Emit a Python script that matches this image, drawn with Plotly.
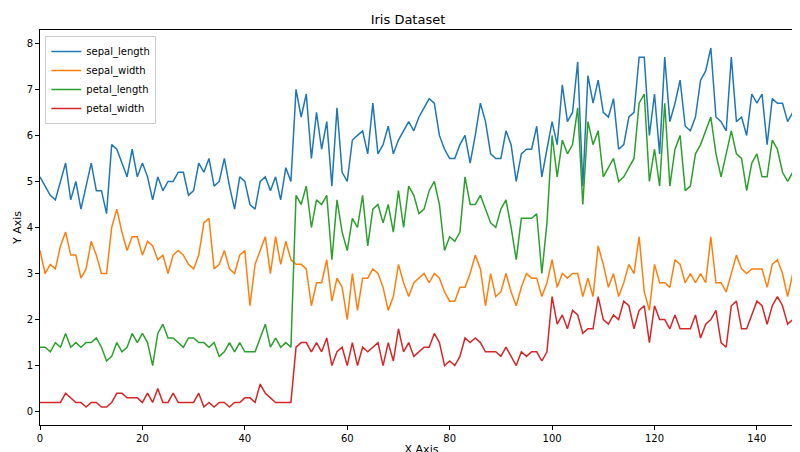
import plotly.graph_objects as go

sepal_length = [5.1,4.9,4.7,4.6,5.0,5.4,4.6,5.0,4.4,4.9,5.4,4.8,4.8,4.3,5.8,5.7,5.4,5.1,5.7,5.1,
                5.4,5.1,4.6,5.1,4.8,5.0,5.0,5.2,5.2,4.7,4.8,5.4,5.2,5.5,4.9,5.0,5.5,4.9,4.4,5.1,
                5.0,4.5,4.4,5.0,5.1,4.8,5.1,4.6,5.3,5.0,7.0,6.4,6.9,5.5,6.5,5.7,6.3,4.9,6.6,5.2,
                5.0,5.9,6.0,6.1,5.6,6.7,5.6,5.8,6.2,5.6,5.9,6.1,6.3,6.1,6.4,6.6,6.8,6.7,6.0,5.7,
                5.5,5.5,5.8,6.0,5.4,6.0,6.7,6.3,5.6,5.5,5.5,6.1,5.8,5.0,5.6,5.7,5.7,6.2,5.1,5.7,
                6.3,5.8,7.1,6.3,6.5,7.6,4.9,7.3,6.7,7.2,6.5,6.4,6.8,5.7,5.8,6.4,6.5,7.7,7.7,6.0,
                6.9,5.6,7.7,6.3,6.7,7.2,6.2,6.1,6.4,7.2,7.4,7.9,6.4,6.3,6.1,7.7,6.3,6.4,6.0,6.9,
                6.7,6.9,5.8,6.8,6.7,6.7,6.3,6.5,6.2,5.9]
sepal_width = [3.5,3.0,3.2,3.1,3.6,3.9,3.4,3.4,2.9,3.1,3.7,3.4,3.0,3.0,4.0,4.4,3.9,3.5,3.8,3.8,
               3.4,3.7,3.6,3.3,3.4,3.0,3.4,3.5,3.4,3.2,3.1,3.4,4.1,4.2,3.1,3.2,3.5,3.1,3.0,3.4,
               3.5,2.3,3.2,3.5,3.8,3.0,3.8,3.2,3.7,3.3,3.2,3.2,3.1,2.3,2.8,2.8,3.3,2.4,2.9,2.7,
               2.0,3.0,2.2,2.9,2.9,3.1,3.0,2.7,2.2,2.5,3.2,2.8,2.5,2.8,2.9,3.0,2.8,3.0,2.9,2.6,
               2.4,2.4,2.7,2.7,3.0,3.4,3.1,2.3,3.0,2.5,2.6,3.0,2.6,2.3,2.7,3.0,2.9,2.9,2.5,2.8,
               3.3,2.7,3.0,2.9,3.0,3.0,2.5,2.9,2.5,3.6,3.2,2.7,3.0,2.5,2.8,3.2,3.0,3.8,2.6,2.2,
               3.2,2.8,2.8,2.7,3.3,3.2,2.8,3.0,2.8,3.0,2.8,3.8,2.8,2.8,2.6,3.0,3.4,3.1,3.0,3.1,
               3.1,3.1,2.7,3.2,3.3,3.0,2.5,3.0,3.4,3.0]
petal_length = [1.4,1.4,1.3,1.5,1.4,1.7,1.4,1.5,1.4,1.5,1.5,1.6,1.4,1.1,1.2,1.5,1.3,1.4,1.7,1.5,
                1.7,1.5,1.0,1.7,1.9,1.6,1.6,1.5,1.4,1.6,1.6,1.5,1.5,1.4,1.5,1.2,1.3,1.5,1.3,1.5,
                1.3,1.3,1.3,1.6,1.9,1.4,1.6,1.4,1.5,1.4,4.7,4.5,4.9,4.0,4.6,4.5,4.7,3.3,4.6,3.9,
                3.5,4.2,4.0,4.7,3.6,4.4,4.5,4.1,4.5,3.9,4.8,4.0,4.9,4.7,4.3,4.4,4.8,5.0,4.5,3.5,
                3.8,3.7,3.9,5.1,4.5,4.5,4.7,4.4,4.1,4.0,4.4,4.6,4.0,3.3,4.2,4.2,4.2,4.3,3.0,4.1,
                6.0,5.1,5.9,5.6,5.8,6.6,4.5,6.3,5.8,6.1,5.1,5.3,5.5,5.0,5.1,5.3,5.5,6.7,6.9,5.0,
                5.7,4.9,6.7,4.9,5.7,6.0,4.8,4.9,5.6,5.8,6.1,6.4,5.6,5.1,5.6,6.1,5.6,5.5,4.8,5.4,
                5.6,5.1,5.1,5.9,5.7,5.2,5.0,5.2,5.4,5.1]
petal_width = [0.2,0.2,0.2,0.2,0.2,0.4,0.3,0.2,0.2,0.1,0.2,0.2,0.1,0.1,0.2,0.4,0.4,0.3,0.3,0.3,
               0.2,0.4,0.2,0.5,0.2,0.2,0.4,0.2,0.2,0.2,0.2,0.4,0.1,0.2,0.1,0.2,0.2,0.1,0.2,0.2,
               0.3,0.3,0.2,0.6,0.4,0.3,0.2,0.2,0.2,0.2,1.4,1.5,1.5,1.3,1.5,1.3,1.6,1.0,1.3,1.4,
               1.0,1.5,1.0,1.4,1.3,1.4,1.5,1.0,1.5,1.1,1.8,1.3,1.5,1.2,1.3,1.4,1.4,1.7,1.5,1.0,
               1.1,1.0,1.2,1.6,1.5,1.6,1.5,1.3,1.3,1.3,1.2,1.4,1.2,1.0,1.3,1.2,1.3,1.3,1.1,1.3,
               2.5,1.9,2.1,1.8,2.2,2.1,1.7,1.8,1.8,2.5,2.0,1.9,2.1,2.0,2.4,2.3,1.8,2.2,2.3,1.5,
               2.3,2.0,2.0,1.8,2.1,1.8,1.8,1.8,2.1,1.6,1.9,2.0,2.2,1.5,1.4,2.3,2.4,1.8,1.8,2.1,
               2.4,2.3,1.9,2.3,2.5,2.3,1.9,2.0,2.3,1.8]

series = [("sepal_length", sepal_length, "#1f77b4"),
          ("sepal_width", sepal_width, "#ff7f0e"),
          ("petal_length", petal_length, "#2ca02c"),
          ("petal_width", petal_width, "#d62728")]

fig = go.Figure()
for name, vals, color in series:
    fig.add_trace(go.Scatter(x=list(range(len(vals))), y=vals, name=name, mode="lines",
                             line=dict(color=color, width=1.5)))

axis = dict(showgrid=False, zeroline=False, showline=True, linecolor="black", mirror=True,
            ticks="outside", ticklen=4, tickcolor="black", automargin=False,
            tickfont=dict(size=10, color="black"))

fig.update_xaxes(range=[0, 149], tickvals=[0, 20, 40, 60, 80, 100, 120, 140],
                 title=dict(text="X Axis", font=dict(size=11, color="black"), standoff=2), **axis)
fig.update_yaxes(range=[-0.29, 8.29], dtick=1,
                 title=dict(text="Y Axis", font=dict(size=11, color="black"), standoff=2), **axis)

fig.update_layout(
    width=800, height=452,
    margin=dict(l=32, r=5, t=22, b=35, autoexpand=False),
    plot_bgcolor="white", paper_bgcolor="white",
    font=dict(family="DejaVu Sans"),
    title=dict(text="Iris Dataset", x=0.5, y=0.985, font=dict(size=13, color="black")),
    legend=dict(x=0.007, y=0.985, bgcolor="rgba(255,255,255,0.8)", bordercolor="#cccccc",
                borderwidth=1, font=dict(size=10, color="black")),
)

fig.write_html("out.html")
